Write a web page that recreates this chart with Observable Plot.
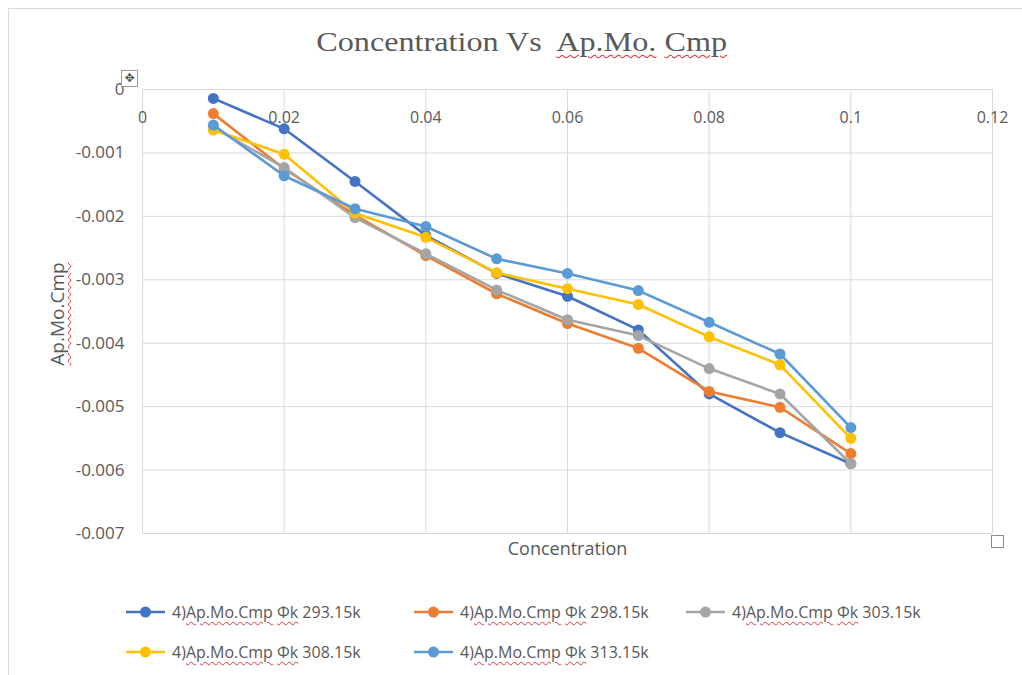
<!DOCTYPE html>
<html>
<head>
<meta charset="utf-8">
<script src="https://cdn.jsdelivr.net/npm/d3@7"></script>
<script src="https://cdn.jsdelivr.net/npm/@observablehq/plot@0.6"></script>
<style>
  html, body { margin: 0; padding: 0; background: #fff; }
  #chart { position: relative; width: 1022px; height: 675px; overflow: hidden; font-family: "Open Sans", sans-serif; color: #595959; }
  #frame { position: absolute; left: 8px; top: 8px; width: 1030px; height: 700px; border: 1px solid #d9d9d9; box-sizing: border-box; }
  #title { position: absolute; left: 0; width: 1044px; top: 26px; text-align: center; }
  #title > span.inner { display: inline-block; transform: scaleX(1.15); font-family: "Liberation Serif", serif; font-size: 28px; color: #595959; white-space: pre; }
  .spell { text-decoration: underline wavy #e0353b; text-decoration-thickness: 1px; text-underline-offset: 3px; }
  #ylabel { position: absolute; left: 57px; top: 314px; transform: translate(-50%, -50%) rotate(-90deg); font-size: 19px; white-space: nowrap; }
  #plot { position: absolute; left: 0; top: 0; }
  .legend-item { position: absolute; display: flex; align-items: center; font-size: 16px; white-space: nowrap; }
  .legend-item svg { margin-right: 6px; }
  #move { position: absolute; left: 121px; top: 70px; width: 15px; height: 15px; border: 1px solid #9a9a9a; background: #fff; font-size: 12px; line-height: 15px; text-align: center; color: #555; font-family: "DejaVu Sans", sans-serif; }
  #handle { position: absolute; left: 991px; top: 535px; width: 11px; height: 11px; border: 1px solid #8a8a8a; background: #fff; }
</style>
</head>
<body>
<div id="chart">
  <div id="frame"></div>
  <div id="title"><span class="inner">Concentration Vs  <span class="spell">Ap.Mo.</span> <span class="spell">Cmp</span></span></div>
  <div id="ylabel"><span class="spell">Ap.Mo.Cmp</span></div>
  <div id="legend"></div>
</div>
<script>
// Concentration values (x) shared by every series
const concentration = [0.01, 0.02, 0.03, 0.04, 0.05, 0.06, 0.07, 0.08, 0.09, 0.1];

// Ap.Mo.Cmp values for each temperature
const cmp293 = [-0.00014, -0.00062, -0.00145, -0.0023, -0.0029, -0.00326, -0.00379, -0.0048, -0.00541, -0.0059];
const cmp298 = [-0.00038, -0.00125, -0.00198, -0.00262, -0.00322, -0.00369, -0.00408, -0.00476, -0.00501, -0.00574];
const cmp303 = [-0.0006, -0.00123, -0.00202, -0.00259, -0.00316, -0.00363, -0.00388, -0.0044, -0.0048, -0.0059];
const cmp308 = [-0.00064, -0.00102, -0.00195, -0.00233, -0.00289, -0.00314, -0.00339, -0.0039, -0.00434, -0.0055];
const cmp313 = [-0.00056, -0.00136, -0.00188, -0.00216, -0.00267, -0.0029, -0.00317, -0.00367, -0.00417, -0.00533];

const seriesNames = ["293.15k", "298.15k", "303.15k", "308.15k", "313.15k"];
const seriesValues = [cmp293, cmp298, cmp303, cmp308, cmp313];
const seriesColors = ["#4472c4", "#ed7d31", "#a5a5a5", "#ffc000", "#5b9bd5"];

// Axis ticks
const xTicks = [0, 0.02, 0.04, 0.06, 0.08, 0.1, 0.12];
const xTickLabels = ["0", "0.02", "0.04", "0.06", "0.08", "0.1", "0.12"];
const yTicks = [0, -0.001, -0.002, -0.003, -0.004, -0.005, -0.006, -0.007];
const yTickLabels = ["0", "-0.001", "-0.002", "-0.003", "-0.004", "-0.005", "-0.006", "-0.007"];
const xTitle = "Concentration";

const rows = [];
seriesValues.forEach((vals, i) => {
  vals.forEach((v, j) => rows.push({series: i, x: concentration[j], y: v}));
});

const marks = [
  Plot.ruleX(xTicks, {stroke: "#d9d9d9", strokeWidth: 1, strokeOpacity: 1}),
  Plot.ruleY(yTicks, {stroke: "#d9d9d9", strokeWidth: 1, strokeOpacity: 1}),
  Plot.axisY(yTicks, {
    tickSize: 0, tickPadding: 18, fontSize: 17, fill: "#595959",
    tickFormat: (d) => yTickLabels[yTicks.indexOf(d)], label: null
  }),
  Plot.text(xTicks, {
    x: (d) => d, y: () => 0, dy: 28, text: (d, i) => xTickLabels[i],
    fontSize: 16, fill: "#595959"
  }),
  Plot.text([xTitle], {frameAnchor: "bottom", dy: 21, fontSize: 18, fill: "#595959"})
];

seriesValues.forEach((vals, i) => {
  const data = rows.filter((r) => r.series === i);
  marks.push(Plot.line(data, {x: "x", y: "y", stroke: seriesColors[i], strokeWidth: 2.6}));
  marks.push(Plot.dot(data, {x: "x", y: "y", fill: seriesColors[i], r: 5.5, stroke: null}));
});

const plot = Plot.plot({
  width: 1022,
  height: 575,
  marginLeft: 142,
  marginRight: 30,
  marginTop: 89,
  marginBottom: 42,
  style: {fontFamily: "Open Sans, sans-serif", background: "transparent", overflow: "visible"},
  x: {domain: [0, 0.12], axis: null},
  y: {domain: [-0.007, 0], axis: null},
  marks
});
plot.id = "plot";
const chart = document.getElementById("chart");
chart.insertBefore(plot, document.getElementById("legend"));

// Legend: series line with marker, then its name
const legendPos = [[125, 612], [413, 612], [685, 612], [125, 652], [413, 652]];
const legend = document.getElementById("legend");
seriesNames.forEach((name, i) => {
  const item = document.createElement("div");
  item.className = "legend-item";
  item.style.left = legendPos[i][0] + "px";
  item.style.top = (legendPos[i][1] - 13) + "px";
  item.innerHTML =
    `<svg width="41" height="26"><line x1="1" x2="40" y1="13" y2="13" stroke="${seriesColors[i]}" stroke-width="2.6"/>` +
    `<circle cx="20.5" cy="13" r="5.5" fill="${seriesColors[i]}"/></svg>` +
    `<span>4)<span class="spell">Ap.Mo.Cmp</span> <span class="spell">Φk</span> ${name}</span>`;
  legend.appendChild(item);
});

// Chart-object handles
const mv = document.createElement("div");
mv.id = "move"; mv.textContent = "✥";
chart.appendChild(mv);
const hd = document.createElement("div");
hd.id = "handle";
chart.appendChild(hd);
</script>
</body>
</html>
